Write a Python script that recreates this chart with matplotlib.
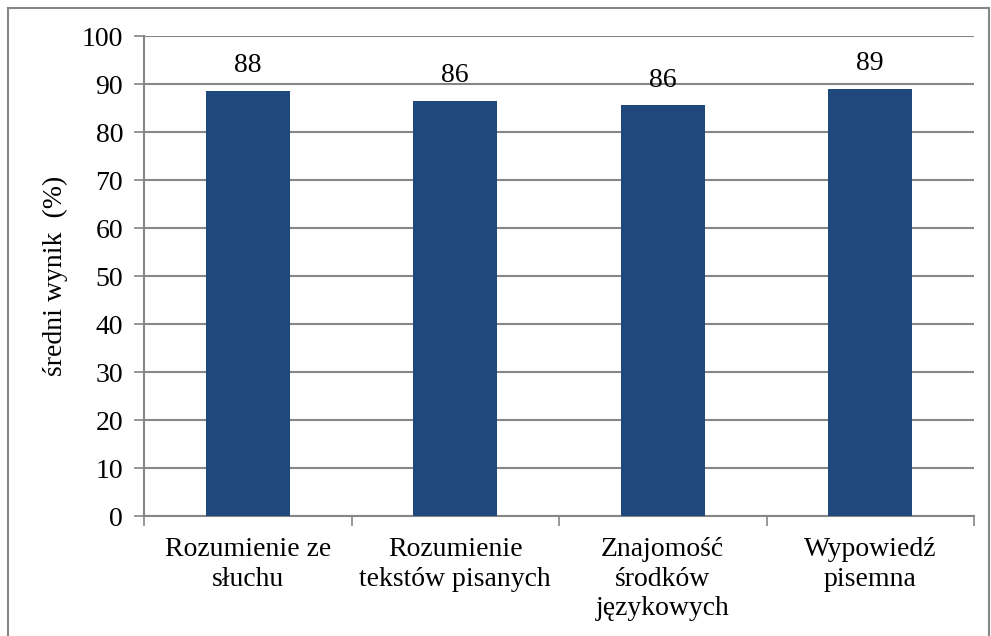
import matplotlib
matplotlib.use("Agg")
import matplotlib.pyplot as plt
from matplotlib.patches import Rectangle
from matplotlib.ticker import FixedLocator, NullFormatter

categories = ["Rozumienie ze\nsłuchu", "Rozumienie\ntekstów pisanych",
              "Znajomość\nśrodków\njęzykowych", "Wypowiedź\npisemna"]
values = [88.6, 86.5, 85.6, 89.0]
labels = ["88", "86", "86", "89"]
yticks = list(range(0, 101, 10))

plt.rcParams['font.family'] = ['Liberation Serif', 'DejaVu Serif']
W, H = 991, 636
FS = 20
fig = plt.figure(figsize=(W / 100, H / 100), dpi=100)
ax = fig.add_axes([144 / W, (H - 516) / H, (974 - 144) / W, (516 - 36) / H])

gray = "#868686"
x = list(range(len(categories)))
bars = ax.bar(x, values, width=0.405, color="#1F497D", zorder=3)
for b, lab in zip(bars, labels):
    ax.annotate(lab, (b.get_x() + b.get_width() / 2, b.get_height()),
                xytext=(0, 9), textcoords="offset points",
                ha="center", va="bottom", fontsize=FS)

ax.set_xlim(-0.5, len(categories) - 0.5)
ax.set_ylim(0, 100)
ax.set_yticks(yticks)
ax.yaxis.grid(True, color=gray, linewidth=1.5, zorder=0)
ax.set_axisbelow(True)
ax.tick_params(axis="y", labelsize=FS, length=7, width=1.2, color=gray, pad=8)
ax.set_xticks(x)
ax.set_xticklabels(categories, fontsize=FS, linespacing=1.25)
ax.tick_params(axis="x", which="major", length=0, pad=15)
ax.xaxis.set_minor_locator(FixedLocator([i - 0.5 for i in range(len(categories) + 1)]))
ax.xaxis.set_minor_formatter(NullFormatter())
ax.tick_params(axis="x", which="minor", length=7, width=1.2, color=gray)
for s in ["top", "right"]:
    ax.spines[s].set_visible(False)
for s in ["left", "bottom"]:
    ax.spines[s].set_color(gray)
    ax.spines[s].set_linewidth(1.5)
ax.set_ylabel("średni wynik  (%)", fontsize=FS, labelpad=10)

fig.patches.append(Rectangle((8 / W, -0.05), (989 - 8) / W, 1.05 - 8 / H,
                             transform=fig.transFigure, fill=False,
                             edgecolor=gray, linewidth=1.5))
fig.savefig("out.png", dpi=100)
